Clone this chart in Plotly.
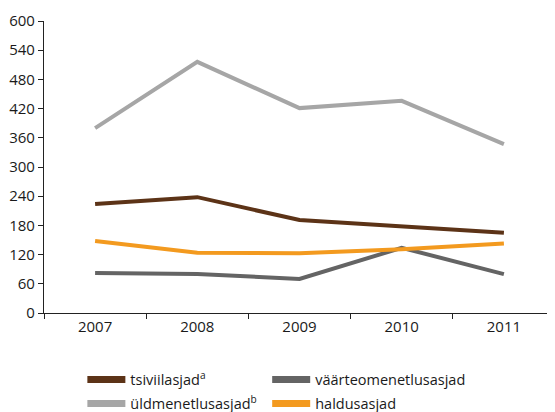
import plotly.graph_objects as go

years = ["2007", "2008", "2009", "2010", "2011"]
tsiviil = [224, 238, 191, 177, 165]
yldmen = [380, 516, 421, 436, 347]
vaarteo = [82, 80, 70, 134, 80]
haldus = [148, 124, 123, 131, 143]

names = ["tsiviilasjad<sup>a</sup>", "üldmenetlusasjad<sup>b</sup>",
         "väärteomenetlusasjad", "haldusasjad"]
colors = ["#5c3317", "#a6a6a6", "#646464", "#f39a1f"]
series = [tsiviil, yldmen, vaarteo, haldus]

fig = go.Figure()
for name, col, vals in zip(names, colors, series):
    fig.add_trace(go.Scatter(x=years, y=vals, mode="lines", name=name,
                             line=dict(color=col, width=4), showlegend=False))

# one legend per entry so the 2x2 grid can be placed freely
legend_ids = ["legend", "legend3", "legend2", "legend4"]
legend_pos = [(0.134, 0.098), (0.134, 0.04), (0.467, 0.098), (0.467, 0.04)]
for i, leg in enumerate(legend_ids):
    fig.add_trace(go.Scatter(x=[None], y=[None], mode="lines", name=names[i],
                             legend=leg, line=dict(color=colors[i], width=7)))

legends = {}
for leg, (lx, ly) in zip(legend_ids, legend_pos):
    legends[leg] = dict(orientation="h", x=lx, y=ly, xref="container", yref="container",
                        xanchor="left", yanchor="middle", font=dict(size=14.5),
                        itemwidth=38, bgcolor="rgba(0,0,0,0)")

# page body adds an 8px offset, so margins are shifted to compensate
fig.update_layout(
    width=555, height=412,
    margin=dict(l=36, r=8, t=13, b=107),
    paper_bgcolor="white", plot_bgcolor="white",
    font=dict(family="Open Sans, Noto Sans, sans-serif", size=15, color="#1a1a1a"),
    showlegend=True,
    xaxis=dict(type="category", range=[-0.5, 4.5], showgrid=False, automargin=False,
               showline=True, linecolor="#222", linewidth=1.2,
               ticks="outside", ticklen=5, tickcolor="#222", tickson="boundaries"),
    yaxis=dict(range=[0, 600], tickvals=list(range(0, 601, 60)), showgrid=False,
               automargin=False, showline=True, linecolor="#222", linewidth=1.2,
               ticks="outside", ticklen=5, tickcolor="#222", zeroline=False),
    **legends,
)

fig.write_html("out.html")
